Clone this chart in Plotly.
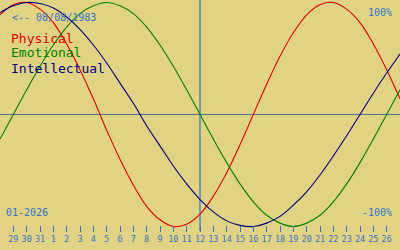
import plotly.graph_objects as go

# Days shown (day-of-month index: Jan 1 = 1, Dec 31 = 0, ...)
days = list(range(-3, 28))
tick_days = list(range(-2, 27))
tick_labels = ["29", "30", "31"] + [str(i) for i in range(1, 27)]

physical = [0.89, 0.98, 1.00, 0.94, 0.82, 0.63, 0.40, 0.14, -0.14, -0.40, -0.63, -0.82,
            -0.94, -1.00, -0.98, -0.89, -0.73, -0.52, -0.27, 0.00, 0.27, 0.52, 0.73, 0.89,
            0.98, 1.00, 0.94, 0.82, 0.63, 0.40, 0.14]
emotional = [-0.22, 0.00, 0.22, 0.43, 0.62, 0.78, 0.90, 0.97, 1.00, 0.97, 0.90, 0.78,
             0.62, 0.43, 0.22, 0.00, -0.22, -0.43, -0.62, -0.78, -0.90, -0.97, -1.00, -0.97,
             -0.90, -0.78, -0.62, -0.43, -0.22, 0.00, 0.22]
intellectual = [0.91, 0.97, 1.00, 0.99, 0.95, 0.87, 0.76, 0.62, 0.46, 0.28, 0.10, -0.10,
                -0.28, -0.46, -0.62, -0.76, -0.87, -0.95, -0.99, -1.00, -0.97, -0.91, -0.81, -0.69,
                -0.54, -0.37, -0.19, 0.00, 0.19, 0.37, 0.54]

today = 12
series_names = ["Physical", "Emotional", "Intellectual"]
series_colors = ["#e00000", "#008000", "#000080"]

BG = "#e1d384"
BLUE = "#3572c6"
MONO = "DejaVu Sans Mono"

fig = go.Figure()
for name, vals, col in zip(series_names, [physical, emotional, intellectual], series_colors):
    fig.add_trace(go.Scatter(x=days, y=vals, mode="lines", name=name,
                             line=dict(color=col, width=1.1, shape="spline"),
                             showlegend=False, hoverinfo="skip"))

fig.update_layout(
    width=400, height=250,
    margin=dict(l=0, r=0, t=0, b=0),
    paper_bgcolor=BG, plot_bgcolor=BG,
    xaxis=dict(range=[-3, 27], tickmode="array", tickvals=tick_days, ticktext=tick_labels,
               showgrid=False, zeroline=False, showline=False,
               ticks="outside", ticklen=6, tickwidth=1, tickcolor=BLUE,
               tickfont=dict(family=MONO, size=8.5, color=BLUE),
               anchor="free", position=0.1, automargin=False, fixedrange=True),
    yaxis=dict(range=[-1.21, 1.022], showgrid=False, zeroline=False, showticklabels=False,
               ticks="", showline=False, automargin=False, fixedrange=True),
)

# zero line and today line
fig.add_shape(type="line", xref="paper", yref="y", x0=0, x1=1, y0=0, y1=0,
              line=dict(color="#4a6a98", width=1), layer="below")
fig.add_shape(type="line", xref="x", yref="paper", x0=today, x1=today, y0=0.076, y1=1,
              line=dict(color=BLUE, width=1.2), layer="below")

def ann(text, x, y, color, size, xanchor="left"):
    fig.add_annotation(text=text, xref="paper", yref="paper", x=x, y=y,
                       xanchor=xanchor, yanchor="middle", showarrow=False,
                       font=dict(family=MONO, size=size, color=color))

ann("&lt;-- 08/08/1983", 10 / 400, 1 - 17 / 250, BLUE, 10)
ann("100%", 394 / 400, 1 - 12 / 250, BLUE, 10, "right")
ann("-100%", 394 / 400, 1 - 212 / 250, BLUE, 10, "right")
ann("01-2026", 4 / 400, 1 - 212 / 250, BLUE, 10)
for i, (name, col) in enumerate(zip(series_names, series_colors)):
    ann(name, 9 / 400, 1 - (38 + 15 * i) / 250, col, 13)

fig.write_html("out.html")
